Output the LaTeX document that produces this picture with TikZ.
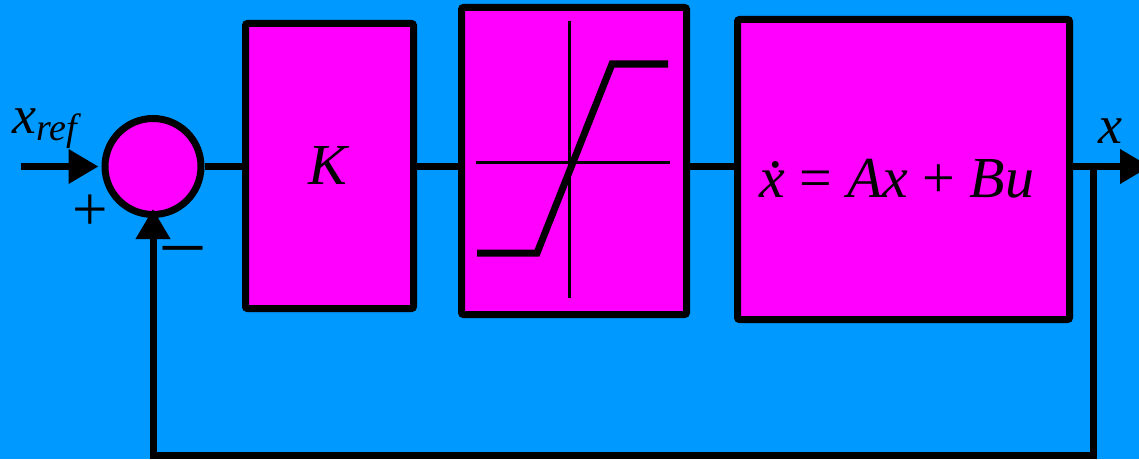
\documentclass[tikz,border=0pt]{standalone}
\usepackage{fontspec}
\setmainfont{LiberationSerif}[Extension=.ttf, UprightFont=*-Regular,
    ItalicFont=*-Italic, BoldFont=*-Bold, BoldItalicFont=*-BoldItalic]
\usetikzlibrary{arrows.meta, positioning, calc}

\definecolor{bgblue}{RGB}{0,153,255}
\definecolor{boxpink}{RGB}{255,0,255}
\newcommand{\blockfont}{\rmfamily\fontsize{58}{64}\selectfont}
\newcommand{\varfont}{\rmfamily\fontsize{54}{60}\selectfont}
\newcommand{\subfont}{\rmfamily\fontsize{38}{42}\selectfont}
\newcommand{\xdot}{\rlap{\hspace{0.16em}\raisebox{0.52em}{.}}\textit{x}}

\begin{document}
\begin{tikzpicture}[
    x=1pt, y=1pt,
    >={Triangle[length=30pt, width=33pt]},
    block/.style={rectangle, draw, line width=7pt, fill=boxpink,
                  rounded corners=2pt, inner sep=0pt, font=\blockfont},
    sumnode/.style={circle, draw, line width=7pt, fill=boxpink,
                    minimum size=96pt, inner sep=0pt},
    wire/.style={line width=7pt},
    sign/.style={anchor=base, inner sep=0pt},
]

% background
\fill[bgblue] (0,0) rectangle (1139,459);
\useasboundingbox (0,0) rectangle (1139,459);

% summing junction and blocks
\node[sumnode] (sum) at (153,292.5) {};
\node[block, minimum width=168pt, minimum height=285pt] (K) at (329.5,293)
    {\textit{K}};
\node[block, minimum width=225pt, minimum height=307pt] (sat) at (574,298) {};
\node[block, minimum width=332pt, minimum height=300pt] (plant)
    at (903.5,289.5) {};
\node[font=\blockfont, inner sep=0pt] (eq) at (897,280)
    {\xdot{} = \textit{Ax} + \textit{Bu}};

% saturation curve inside its block
\begin{scope}[shift={(sat.center)}]
    \draw[line width=3pt] (-5,140) -- (-5,-137);
    \draw[line width=3pt] (-98,-1) -- (96,-1);
    \draw[line width=7pt] (-97,-92) -- (-37,-92) -- (38,97) -- (94,97);
\end{scope}

% forward path
\draw[wire] (sum.east) -- (sum.east -| K.west);
\draw[wire] (K.east |- sum.east) -- (sum.east -| sat.west);
\draw[wire] (sat.east |- sum.east) -- (sum.east -| plant.west);

% input and output
\coordinate (xin) at (21,292.5);
\draw[wire, ->, shorten >=3pt] (xin) -- (sum.west);
\coordinate (xout) at (1150,292.5);
\draw[wire, ->] (plant.east |- sum.east) -- (xout);

% feedback loop
\coordinate (branch) at (1093,292.5);
\coordinate (corner) at (1093,4);
\draw[wire, ->, shorten >=-9pt] (branch) -- (corner) -| (sum.south);

% labels
\node[anchor=base west, inner sep=0pt] (xref) at (12,326)
    {\varfont\textit{x}\raisebox{-7pt}{\subfont\textit{ref}}};
\node[anchor=base west, inner sep=0pt] (xlab) at (1098,316)
    {\varfont\textit{x}};
\node[sign, font=\rmfamily\fontsize{63}{66}\selectfont] (plus) at (90,229) {+};
\node[sign, font=\rmfamily\fontsize{78}{80}\selectfont] (minus) at (183,193) {–};

\end{tikzpicture}
\end{document}
